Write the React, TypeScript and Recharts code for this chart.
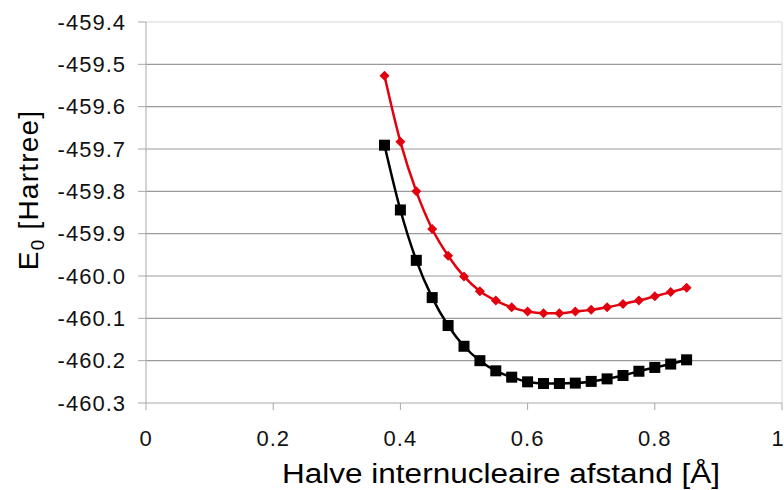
import React from 'react';
import { LineChart, Line, XAxis, YAxis, CartesianGrid, ReferenceLine } from 'recharts';

// half internuclear distance [Å]
const distances = [
  0.375, 0.4, 0.425, 0.45, 0.475, 0.5, 0.525, 0.55, 0.575, 0.6,
  0.625, 0.65, 0.675, 0.7, 0.725, 0.75, 0.775, 0.8, 0.825, 0.85,
];
const energyRed = [
  -459.527, -459.683, -459.8, -459.889, -459.952, -460.001, -460.036, -460.058, -460.074, -460.084,
  -460.088, -460.088, -460.084, -460.08, -460.074, -460.066, -460.058, -460.048, -460.038, -460.028,
];
const energyBlack = [
  -459.691, -459.844, -459.963, -460.051, -460.117, -460.166, -460.2, -460.224, -460.239, -460.25,
  -460.254, -460.254, -460.253, -460.249, -460.243, -460.235, -460.225, -460.216, -460.208, -460.198,
];
const xTicks = [0, 0.2, 0.4, 0.6, 0.8, 1];
const yTicks = [-460.3, -460.2, -460.1, -460.0, -459.9, -459.8, -459.7, -459.6, -459.5, -459.4];
const gridValues = [-460.2, -460.1, -460.0, -459.9, -459.8, -459.7, -459.6, -459.5];

const data = distances.map((x, i) => ({ x, red: energyRed[i], black: energyBlack[i] }));

const FONT = 'Liberation Sans, Arial, sans-serif';

const Diamond = (props: any) => {
  const { cx, cy } = props;
  if (cx == null || cy == null) return null;
  const r = 5;
  return <path d={`M${cx},${cy - r}L${cx + r},${cy}L${cx},${cy + r}L${cx - r},${cy}Z`} fill="#e3000f" />;
};

const Square = (props: any) => {
  const { cx, cy } = props;
  if (cx == null || cy == null) return null;
  const s = 11;
  return <rect x={cx - s / 2} y={cy - s / 2} width={s} height={s} fill="#000" />;
};

const YLabel = () => (
  <text
    x={38}
    y={190}
    transform="rotate(-90, 38, 190)"
    textAnchor="middle"
    fontFamily={FONT}
    fontSize={28}
    letterSpacing={1.2}
    fill="#000"
  >
    E<tspan fontSize={19} dy={6}>0</tspan>
    <tspan dy={-6}> [Hartree]</tspan>
  </text>
);

const XLabel = () => (
  <text
    x={282}
    y={483}
    textLength={438}
    lengthAdjust="spacingAndGlyphs"
    fontFamily={FONT}
    fontSize={27}
    fill="#000"
  >
    Halve internucleaire afstand [Å]
  </text>
);

const tickStyle = { fill: '#111', fontSize: 22, fontFamily: FONT, letterSpacing: 1 };

const App: React.FC = () => {
  return (
    <div>
      <style>{'body{margin:0;background:#fff}'}</style>
      <LineChart width={784} height={490} data={data} margin={{ top: 22, right: 2, bottom: 0, left: 0 }}>
        <CartesianGrid horizontal vertical={false} horizontalValues={gridValues} stroke="#9a9a9a" strokeWidth={1.2} />
        <ReferenceLine y={-459.4} stroke="#e4e4e4" strokeWidth={1.5} />
        <ReferenceLine x={1} stroke="#e4e4e4" strokeWidth={1.5} />
        <XAxis
          dataKey="x"
          type="number"
          domain={[0, 1]}
          ticks={xTicks}
          tickFormatter={(v: number) => String(v)}
          height={87}
          tickSize={7}
          tickMargin={20}
          stroke="#a8a8a8"
          tick={tickStyle}
          label={<XLabel />}
        />
        <YAxis
          type="number"
          domain={[-460.3, -459.4]}
          ticks={yTicks}
          tickFormatter={(v: number) => v.toFixed(1)}
          width={146}
          tickSize={8}
          tickMargin={12}
          stroke="#a8a8a8"
          tick={tickStyle}
          label={<YLabel />}
          allowDataOverflow
        />
        <Line
          dataKey="red"
          type="monotone"
          stroke="#e3000f"
          strokeWidth={2.5}
          dot={<Diamond />}
          activeDot={false}
          isAnimationActive={false}
        />
        <Line
          dataKey="black"
          type="monotone"
          stroke="#000"
          strokeWidth={2.5}
          dot={<Square />}
          activeDot={false}
          isAnimationActive={false}
        />
      </LineChart>
    </div>
  );
};

export default App;
